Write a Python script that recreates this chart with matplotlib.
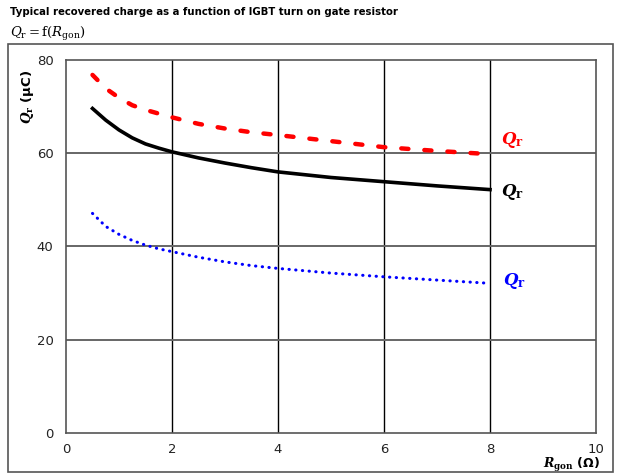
import matplotlib
matplotlib.use("Agg")
import matplotlib.pyplot as plt
from matplotlib.patches import Rectangle

# gate resistor values (Ohm) and recovered charge curves (uC)
r_gon = [0.5, 0.75, 1.0, 1.25, 1.5, 1.75, 2.0, 2.5, 3.0, 3.5, 4.0, 5.0, 6.0, 7.0, 8.0]
qr_max = [76.8, 73.9, 71.9, 70.3, 69.3, 68.5, 67.7, 66.3, 65.3, 64.5, 63.9, 62.6, 61.3, 60.5, 59.8]
qr_typ = [69.6, 67.1, 65.0, 63.3, 62.0, 61.1, 60.3, 59.0, 57.9, 56.9, 56.0, 54.8, 53.9, 53.0, 52.2]
qr_min = [47.1, 44.3, 42.6, 41.3, 40.3, 39.5, 38.9, 37.7, 36.7, 35.9, 35.3, 34.3, 33.5, 32.8, 32.1]

x_ticks = [0, 2, 4, 6, 8, 10]
y_ticks = [0, 20, 40, 60, 80]

plt.rcParams['mathtext.fontset'] = 'dejavuserif'

fig = plt.figure(figsize=(6.21, 4.74), dpi=100)
ax = fig.add_axes([66 / 621, 41 / 474, 530 / 621, 373 / 474])

# outer frame around the chart
fig.patches.append(Rectangle((8 / 621, 2 / 474), 605 / 621, 428 / 474,
                             transform=fig.transFigure, fill=False,
                             edgecolor='#555555', linewidth=1.2))

for x in [2, 4, 6, 8]:
    ax.axvline(x, color='black', linewidth=1.0, zorder=1)
for y in [20, 40, 60]:
    ax.axhline(y, color='#666666', linewidth=1.4, zorder=1)

ax.plot(r_gon, qr_max, color='#FF0000', linewidth=3.2,
        linestyle=(0, (1.6, 3.6)), dash_capstyle='round', zorder=3)
ax.plot(r_gon, qr_typ, color='black', linewidth=2.6, zorder=3)
ax.plot(r_gon, qr_min, color='#0000FF', linewidth=2.2,
        linestyle=(0, (0.1, 2.1)), dash_capstyle='round', zorder=3)

lbl = r'$\mathbfit{Q}_\mathbf{r}$'
ax.text(8.2, 62.8, lbl, color='#FF0000', fontsize=12, va='center')
ax.text(8.2, 51.6, lbl, color='black', fontsize=12, va='center')
ax.text(8.25, 32.6, lbl, color='#0000FF', fontsize=12, va='center')

ax.set_xlim(0, 10)
ax.set_ylim(0, 80)
ax.set_xticks(x_ticks)
ax.set_yticks(y_ticks)
ax.tick_params(length=0, labelsize=9.5, colors='#222222')
ax.tick_params(axis='x', pad=7)
ax.tick_params(axis='y', pad=9)
for s in ax.spines.values():
    s.set_color('#555555')
    s.set_linewidth(1.2)

fig.text(10 / 621, 1 - 12 / 474,
         'Typical recovered charge as a function of IGBT turn on gate resistor',
         fontsize=7.3, fontweight='bold', va='center', ha='left')
fig.text(10 / 621, 1 - 34 / 474, r'$Q_{\rm r} = {\rm f}(R_{\rm gon})$',
         fontsize=9.5, va='center', ha='left')

fig.text(28 / 621, 1 - 97 / 474, r'$\mathbfit{Q}_\mathbf{r}$ (µC)',
         rotation=90, fontsize=9.5, fontweight='bold', va='center', ha='center')
fig.text(600 / 621, 1 - 465 / 474, r'$\mathbfit{R}_\mathbf{gon}$ (Ω)',
         fontsize=9, fontweight='bold', va='center', ha='right')

fig.savefig('out.png', dpi=100)
